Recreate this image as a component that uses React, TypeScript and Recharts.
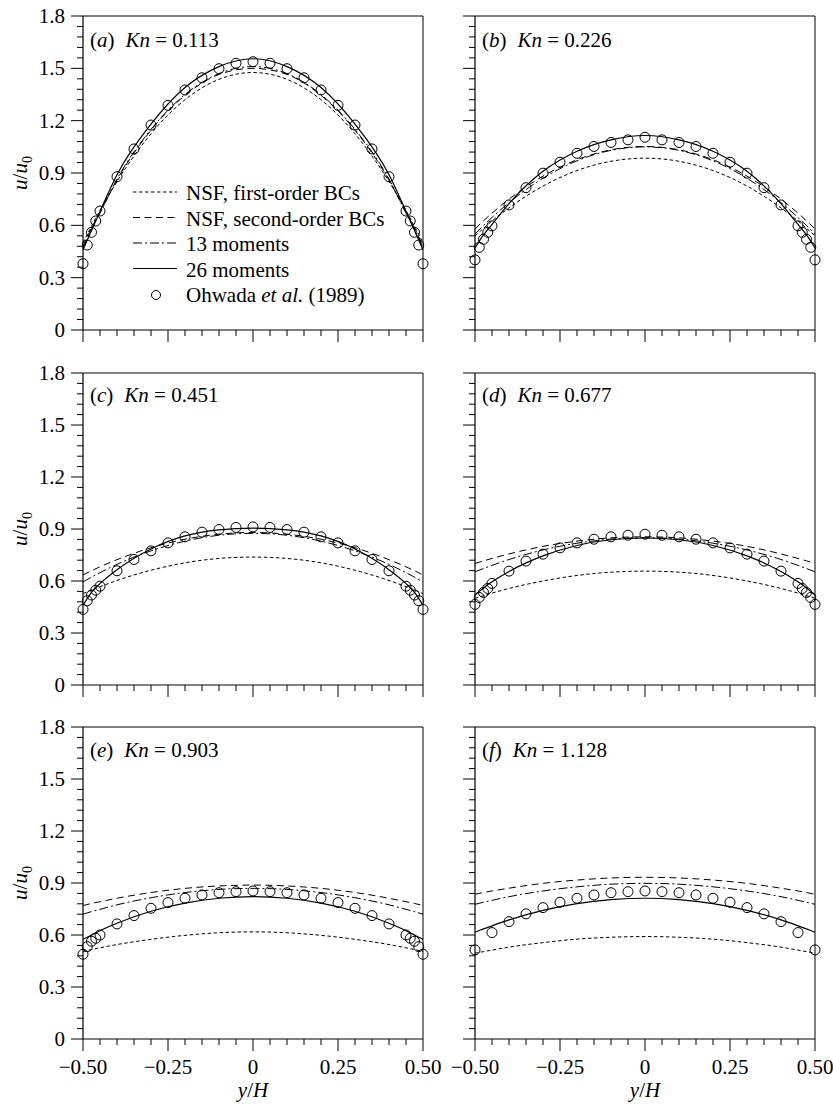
import React from 'react';
import { ComposedChart, Line, Scatter, XAxis, YAxis, ReferenceLine, Legend } from 'recharts';

const FONT = '"Liberation Serif", "Times New Roman", serif';

const linePos = [-0.5, -0.475, -0.45, -0.4, -0.3, -0.2, -0.1, 0, 0.1, 0.2, 0.3, 0.4, 0.45, 0.475, 0.5];
// Ohwada et al. DSMC points (dense near the walls for a-e)
const ohwadaPos = [
  -0.5, -0.4875, -0.475, -0.4625, -0.45, -0.4, -0.35, -0.3, -0.25, -0.2, -0.15, -0.1, -0.05, 0,
  0.05, 0.1, 0.15, 0.2, 0.25, 0.3, 0.35, 0.4, 0.45, 0.4625, 0.475, 0.4875, 0.5,
];
const ohwadaPosF = [
  -0.5, -0.45, -0.4, -0.35, -0.3, -0.25, -0.2, -0.15, -0.1, -0.05, 0,
  0.05, 0.1, 0.15, 0.2, 0.25, 0.3, 0.35, 0.4, 0.45, 0.5,
];

const xTicks = [-0.5, -0.45, -0.4, -0.35, -0.3, -0.25, -0.2, -0.15, -0.1, -0.05, 0, 0.05, 0.1, 0.15, 0.2, 0.25, 0.3, 0.35, 0.4, 0.45, 0.5];
const yTicks = [0, 0.06, 0.12, 0.18, 0.24, 0.3, 0.36, 0.42, 0.48, 0.54, 0.6, 0.66, 0.72, 0.78, 0.84, 0.9, 0.96, 1.02, 1.08, 1.14, 1.2, 1.26, 1.32, 1.38, 1.44, 1.5, 1.56, 1.62, 1.68, 1.74, 1.8];

const seriesNames = ['NSF, first-order BCs', 'NSF, second-order BCs', '13 moments', '26 moments', 'Ohwada et al. (1989)'];

// (a) Kn = 0.113
const nsf1A = [0.5, 0.595, 0.685, 0.851, 1.125, 1.32, 1.437, 1.476, 1.437, 1.32, 1.125, 0.851, 0.685, 0.595, 0.5];
const nsf2A = [0.48, 0.585, 0.675, 0.86, 1.145, 1.345, 1.465, 1.5, 1.465, 1.345, 1.145, 0.86, 0.675, 0.585, 0.48];
const m13A = [0.47, 0.58, 0.67, 0.865, 1.15, 1.35, 1.47, 1.51, 1.47, 1.35, 1.15, 0.865, 0.67, 0.58, 0.47];
const m26A = [0.46, 0.57, 0.68, 0.89, 1.18, 1.39, 1.51, 1.555, 1.51, 1.39, 1.18, 0.89, 0.68, 0.57, 0.46];
const ohwadaA = [0.38, 0.487, 0.56, 0.625, 0.682, 0.879, 1.038, 1.175, 1.288, 1.376, 1.446, 1.498, 1.529, 1.538, 1.529, 1.498, 1.446, 1.376, 1.288, 1.175, 1.038, 0.879, 0.682, 0.625, 0.56, 0.487, 0.38];

// (b) Kn = 0.226
const nsf1B = [0.54, 0.583, 0.625, 0.7, 0.825, 0.914, 0.967, 0.985, 0.967, 0.914, 0.825, 0.7, 0.625, 0.583, 0.54];
const nsf2B = [0.58, 0.626, 0.67, 0.75, 0.882, 0.976, 1.033, 1.052, 1.033, 0.976, 0.882, 0.75, 0.67, 0.626, 0.58];
const m13B = [0.55, 0.599, 0.645, 0.73, 0.87, 0.97, 1.03, 1.05, 1.03, 0.97, 0.87, 0.73, 0.645, 0.599, 0.55];
const m26B = [0.47, 0.545, 0.605, 0.725, 0.91, 1.025, 1.09, 1.115, 1.09, 1.025, 0.91, 0.725, 0.605, 0.545, 0.47];
const ohwadaB = [0.402, 0.474, 0.52, 0.56, 0.597, 0.717, 0.816, 0.899, 0.962, 1.013, 1.052, 1.075, 1.09, 1.105, 1.09, 1.075, 1.052, 1.013, 0.962, 0.899, 0.816, 0.717, 0.597, 0.56, 0.52, 0.474, 0.402];

// (c) Kn = 0.451
const nsf1C = [0.527, 0.548, 0.567, 0.603, 0.662, 0.705, 0.73, 0.738, 0.73, 0.705, 0.662, 0.603, 0.567, 0.548, 0.527];
const nsf2C = [0.635, 0.659, 0.682, 0.723, 0.792, 0.841, 0.87, 0.88, 0.87, 0.841, 0.792, 0.723, 0.682, 0.659, 0.635];
const m13C = [0.595, 0.622, 0.648, 0.696, 0.774, 0.83, 0.864, 0.875, 0.864, 0.83, 0.774, 0.696, 0.648, 0.622, 0.595];
const m26C = [0.46, 0.535, 0.585, 0.665, 0.785, 0.86, 0.895, 0.905, 0.895, 0.86, 0.785, 0.665, 0.585, 0.535, 0.46];
const ohwadaC = [0.436, 0.486, 0.519, 0.547, 0.57, 0.659, 0.724, 0.774, 0.82, 0.855, 0.882, 0.897, 0.909, 0.912, 0.909, 0.897, 0.882, 0.855, 0.82, 0.774, 0.724, 0.659, 0.57, 0.547, 0.519, 0.486, 0.436];

// (d) Kn = 0.677
const nsf1D = [0.5, 0.515, 0.53, 0.557, 0.6, 0.632, 0.651, 0.657, 0.651, 0.632, 0.6, 0.557, 0.53, 0.515, 0.5];
const nsf2D = [0.701, 0.716, 0.73, 0.756, 0.8, 0.83, 0.849, 0.855, 0.849, 0.83, 0.8, 0.756, 0.73, 0.716, 0.701];
const m13D = [0.653, 0.672, 0.69, 0.724, 0.779, 0.818, 0.842, 0.85, 0.842, 0.818, 0.779, 0.724, 0.69, 0.672, 0.653];
const m26D = [0.519, 0.56, 0.595, 0.655, 0.745, 0.805, 0.838, 0.848, 0.838, 0.805, 0.745, 0.655, 0.595, 0.56, 0.519];
const ohwadaD = [0.465, 0.505, 0.534, 0.557, 0.586, 0.657, 0.715, 0.755, 0.791, 0.82, 0.841, 0.855, 0.864, 0.87, 0.864, 0.855, 0.841, 0.82, 0.791, 0.755, 0.715, 0.657, 0.586, 0.557, 0.534, 0.505, 0.465];

// (e) Kn = 0.903
const nsf1E = [0.505, 0.516, 0.526, 0.545, 0.575, 0.598, 0.613, 0.618, 0.613, 0.598, 0.575, 0.545, 0.526, 0.516, 0.505];
const nsf2E = [0.77, 0.782, 0.792, 0.812, 0.845, 0.869, 0.883, 0.888, 0.883, 0.869, 0.845, 0.812, 0.792, 0.782, 0.77];
const m13E = [0.72, 0.735, 0.748, 0.774, 0.815, 0.845, 0.863, 0.869, 0.863, 0.845, 0.815, 0.774, 0.748, 0.735, 0.72];
const m26E = [0.575, 0.6, 0.625, 0.668, 0.737, 0.784, 0.812, 0.821, 0.812, 0.784, 0.737, 0.668, 0.625, 0.6, 0.575];
const ohwadaE = [0.489, 0.533, 0.564, 0.581, 0.6, 0.664, 0.712, 0.754, 0.787, 0.812, 0.831, 0.844, 0.85, 0.854, 0.85, 0.844, 0.831, 0.812, 0.787, 0.754, 0.712, 0.664, 0.6, 0.581, 0.564, 0.533, 0.489];

// (f) Kn = 1.128
const nsf1F = [0.495, 0.504, 0.513, 0.53, 0.556, 0.576, 0.587, 0.591, 0.587, 0.576, 0.556, 0.53, 0.513, 0.504, 0.495];
const nsf2F = [0.835, 0.845, 0.854, 0.87, 0.898, 0.917, 0.929, 0.933, 0.929, 0.917, 0.898, 0.87, 0.854, 0.845, 0.835];
const m13F = [0.777, 0.789, 0.8, 0.821, 0.854, 0.878, 0.893, 0.898, 0.893, 0.878, 0.854, 0.821, 0.8, 0.789, 0.777];
const m26F = [0.616, 0.635, 0.653, 0.687, 0.742, 0.781, 0.804, 0.812, 0.804, 0.781, 0.742, 0.687, 0.653, 0.635, 0.616];
const ohwadaF = [0.514, 0.614, 0.677, 0.722, 0.758, 0.789, 0.812, 0.831, 0.844, 0.85, 0.854, 0.85, 0.844, 0.831, 0.812, 0.789, 0.758, 0.722, 0.677, 0.614, 0.514];

const panels = [
  { tag: 'a', kn: '0.113', nsf1: nsf1A, nsf2: nsf2A, m13: m13A, m26: m26A, obsPos: ohwadaPos, obs: ohwadaA },
  { tag: 'b', kn: '0.226', nsf1: nsf1B, nsf2: nsf2B, m13: m13B, m26: m26B, obsPos: ohwadaPos, obs: ohwadaB },
  { tag: 'c', kn: '0.451', nsf1: nsf1C, nsf2: nsf2C, m13: m13C, m26: m26C, obsPos: ohwadaPos, obs: ohwadaC },
  { tag: 'd', kn: '0.677', nsf1: nsf1D, nsf2: nsf2D, m13: m13D, m26: m26D, obsPos: ohwadaPos, obs: ohwadaD },
  { tag: 'e', kn: '0.903', nsf1: nsf1E, nsf2: nsf2E, m13: m13E, m26: m26E, obsPos: ohwadaPos, obs: ohwadaE },
  { tag: 'f', kn: '1.128', nsf1: nsf1F, nsf2: nsf2F, m13: m13F, m26: m26F, obsPos: ohwadaPosF, obs: ohwadaF },
];

const DASH_NSF1 = '3.5 2.5';
const DASH_NSF2 = '7 4.5';
const DASH_M13 = '9 3 2 3';

const isMultiple = (v: number, step: number) => Math.abs(v / step - Math.round(v / step)) < 1e-6;

const fmtX = (v: number) => (Math.abs(v) < 1e-9 ? '0' : (v < 0 ? '\u2212' : '') + Math.abs(v).toFixed(2));
const fmtY = (v: number) => (Math.abs(v) < 1e-9 ? '0' : v.toFixed(1));

const XTick = (props: any) => {
  const { x, y, payload, showLabel } = props;
  const v = payload.value;
  const major = isMultiple(v, 0.25);
  return (
    <g>
      <line x1={x} x2={x} y1={y} y2={y + (major ? 12 : 6)} stroke="#000" strokeWidth={1} />
      {showLabel && major && (
        <text x={x} y={y + 35} textAnchor="middle" fontSize={21} fontFamily={FONT} fill="#000">
          {fmtX(v)}
        </text>
      )}
    </g>
  );
};

const YTick = (props: any) => {
  const { x, y, payload, showLabel } = props;
  const v = payload.value;
  const major = isMultiple(v, 0.3);
  return (
    <g>
      <line x1={x} x2={x - (major ? 12 : 6)} y1={y} y2={y} stroke="#000" strokeWidth={1} />
      {showLabel && major && (
        <text x={x - 18} y={y + 7} textAnchor="end" fontSize={21} fontFamily={FONT} fill="#000">
          {fmtY(v)}
        </text>
      )}
    </g>
  );
};

const YTitle = (props: any) => {
  const vb = props.viewBox;
  const cy = vb.y + vb.height / 2;
  return (
    <text transform={`translate(27, ${cy}) rotate(-90)`} textAnchor="middle" fontSize={21} fontFamily={FONT} fill="#000">
      <tspan fontStyle="italic">u</tspan>
      <tspan>/</tspan>
      <tspan fontStyle="italic">u</tspan>
      <tspan fontSize={14} dy={5}>0</tspan>
    </text>
  );
};

const XTitle = (props: any) => {
  const vb = props.viewBox;
  return (
    <text x={vb.x + vb.width / 2} y={vb.y + 58} textAnchor="middle" fontSize={21} fontFamily={FONT} fill="#000">
      <tspan fontStyle="italic">y</tspan>
      <tspan>/</tspan>
      <tspan fontStyle="italic">H</tspan>
    </text>
  );
};

const LegendBox = () => {
  const rowY = (i: number) => 14 + i * 25.5;
  const dashes = [DASH_NSF1, DASH_NSF2, DASH_M13, undefined];
  return (
    <svg width={300} height={135} style={{ display: 'block' }}>
      {dashes.map((d, i) => (
        <line key={i} x1={5} x2={49} y1={rowY(i) - 1} y2={rowY(i) - 1} stroke="#000" strokeWidth={1} strokeDasharray={d} />
      ))}
      <circle cx={28} cy={rowY(4)} r={4.5} fill="none" stroke="#000" strokeWidth={1} />
      {seriesNames.map((name, i) => (
        <text key={name} x={58} y={rowY(i) + 7} fontSize={21} fontFamily={FONT} fill="#000">
          {i === 4 ? (
            <>
              Ohwada <tspan fontStyle="italic">et al.</tspan> (1989)
            </>
          ) : (
            name
          )}
        </text>
      ))}
    </svg>
  );
};

const Panel = ({ idx }: { idx: number }) => {
  const p = panels[idx];
  const col = idx % 2;
  const row = Math.floor(idx / 2);
  const left = col === 0 ? 0 : 400;
  const width = col === 0 ? 445 : 433;
  const axisW = col === 0 ? 83 : 75;
  const top = [0, 357, 711][row];
  const plotH = [314, 312, 312][row];
  const xAxisH = row === 2 ? 66 : 22;
  const height = 16 + plotH + xAxisH;

  const rows = linePos.map((pos, i) => ({ pos, nsf1: p.nsf1[i], nsf2: p.nsf2[i], m13: p.m13[i], m26: p.m26[i] }));
  const obs = p.obsPos.map((pos, i) => ({ pos, u: p.obs[i] }));

  return (
    <div style={{ position: 'absolute', left, top, width, height }}>
      <ComposedChart width={width} height={height} data={rows} margin={{ top: 16, right: width - axisW - 340, bottom: 0, left: 0 }}>
        <XAxis
          dataKey="pos"
          type="number"
          domain={[-0.5, 0.5]}
          ticks={xTicks}
          interval={0}
          height={xAxisH}
          tickSize={0}
          tickMargin={0}
          axisLine={{ stroke: '#000', strokeWidth: 1.2 }}
          tick={(tp: any) => <XTick {...tp} showLabel={row === 2} />}
          label={row === 2 ? (lp: any) => <XTitle {...lp} /> : undefined}
        />
        <YAxis
          type="number"
          domain={[0, 1.8]}
          ticks={yTicks}
          interval={0}
          width={axisW}
          tickSize={0}
          tickMargin={0}
          axisLine={{ stroke: '#000', strokeWidth: 1.2 }}
          tick={(tp: any) => <YTick {...tp} showLabel={col === 0} />}
          label={col === 0 ? (lp: any) => <YTitle {...lp} /> : undefined}
        />
        <ReferenceLine y={1.8} stroke="#000" strokeWidth={1} />
        <ReferenceLine x={0.5} stroke="#000" strokeWidth={1} />
        <Line type="monotone" dataKey="nsf1" name={seriesNames[0]} stroke="#000" strokeWidth={1} strokeDasharray={DASH_NSF1} dot={false} activeDot={false} isAnimationActive={false} />
        <Line type="monotone" dataKey="nsf2" name={seriesNames[1]} stroke="#000" strokeWidth={1} strokeDasharray={DASH_NSF2} dot={false} activeDot={false} isAnimationActive={false} />
        <Line type="monotone" dataKey="m13" name={seriesNames[2]} stroke="#000" strokeWidth={1} strokeDasharray={DASH_M13} dot={false} activeDot={false} isAnimationActive={false} />
        <Line type="monotone" dataKey="m26" name={seriesNames[3]} stroke="#000" strokeWidth={1.2} dot={false} activeDot={false} isAnimationActive={false} />
        <Scatter
          data={obs}
          dataKey="u"
          name={seriesNames[4]}
          isAnimationActive={false}
          shape={(sp: any) => <circle cx={sp.cx} cy={sp.cy} r={5} fill="none" stroke="#000" strokeWidth={1} />}
        />
        {idx === 0 && (
          <Legend
            layout="vertical"
            align="center"
            verticalAlign="middle"
            wrapperStyle={{ left: 128, top: 179, width: 300, height: 135 }}
            content={() => <LegendBox />}
          />
        )}
      </ComposedChart>
      <div
        style={{
          position: 'absolute',
          left: col === 0 ? 90 : 82,
          top: [29.5, 27.5, 28.5][row],
          fontSize: 21,
          lineHeight: '21px',
          fontFamily: FONT,
          whiteSpace: 'nowrap',
          color: '#000',
        }}
      >
        (<i>{p.tag}</i>)<span style={{ marginLeft: 11 }}><i>Kn</i> = {p.kn}</span>
      </div>
    </div>
  );
};

export default function App() {
  return (
    <div style={{ position: 'absolute', left: 0, top: 0, width: 833, height: 1105, background: '#fff', fontFamily: FONT }}>
      {panels.map((_, i) => (
        <Panel key={i} idx={i} />
      ))}
    </div>
  );
}
